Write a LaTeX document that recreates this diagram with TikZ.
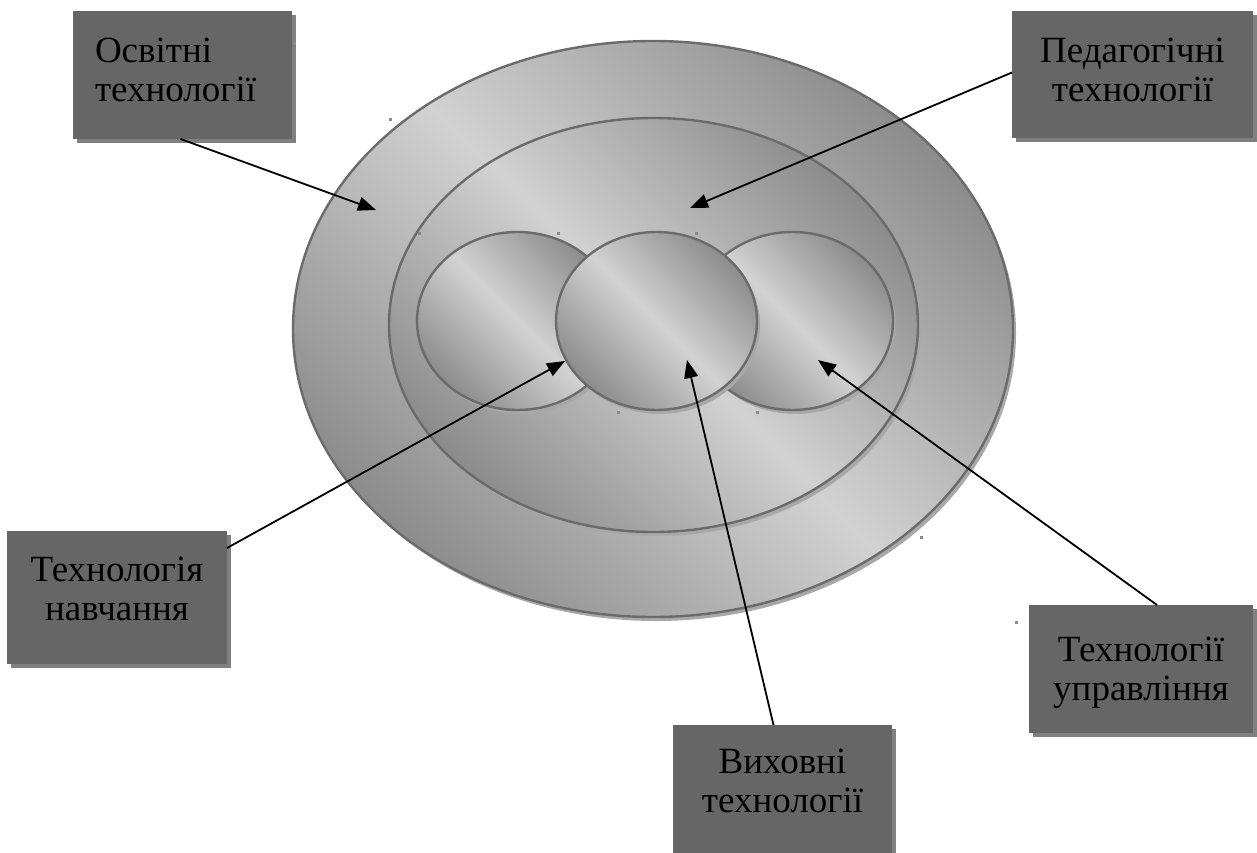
\documentclass[tikz,border=0pt]{standalone}
\usepackage{fontspec}
\setmainfont{Liberation Serif}
\usetikzlibrary{arrows.meta,shadows,shapes.geometric}
\definecolor{boxfill}{HTML}{666666}
\definecolor{boxshadow}{HTML}{808080}
\definecolor{mdark}{HTML}{8C8C8C}
\definecolor{mlight}{HTML}{D2D2D2}
\definecolor{edgecol}{HTML}{6B6B6B}
\definecolor{eshadow}{HTML}{A8A8A8}
\definecolor{handlecol}{HTML}{8A8A8A}
\pgfdeclarehorizontalshading{metal}{100bp}{color(0bp)=(mdark); color(25bp)=(mdark); color(50bp)=(mlight); color(75bp)=(mdark); color(100bp)=(mdark)}
\tikzset{
  disc/.style={ellipse, inner sep=0pt, outer sep=0pt, shading=metal, shading angle=45,
    draw=edgecol, line width=2.4pt,
    drop shadow={shadow xshift=3pt, shadow yshift=-4pt, fill=eshadow, opacity=1}},
  lbl/.style={fill=boxfill, inner sep=0pt, outer sep=0pt,
    drop shadow={shadow xshift=4pt, shadow yshift=-4pt, fill=boxshadow, opacity=1}},
  txt/.style={inner sep=0pt, text=black, font=\fontsize{37}{39}\selectfont, align=center},
  arr/.style={draw=black, line width=1.8pt, -{Triangle[length=18pt,width=14pt]}},
  handle/.style={fill=handlecol}
}
\begin{document}
\begin{tikzpicture}[x=1pt,y=-1pt]
\useasboundingbox (0,0) rectangle (1257,853);
\begin{scope}
\clip (0,0) rectangle (1257,853);
% ellipses
\node[disc, minimum width=720pt, minimum height=576pt] (outer) at (653,329) {};
\node[disc, minimum width=529pt, minimum height=414pt] (inner) at (653.5,325) {};
\node[disc, minimum width=201pt, minimum height=178pt] (cl) at (517.5,321) {};
\node[disc, minimum width=201pt, minimum height=178pt] (cr) at (792.5,321) {};
\node[disc, minimum width=201pt, minimum height=178pt] (cm) at (656.5,321) {};
% arrow targets
\coordinate (t1) at (376,210);
\coordinate (t2) at (690,208);
\coordinate (t3) at (565,361);
\coordinate (t4) at (687,360);
\coordinate (t5) at (818,360);
% label boxes
\node[lbl, minimum width=219pt, minimum height=128pt] (b1) at (182.5,75) {};
\node[lbl, minimum width=241pt, minimum height=127pt] (b2) at (1132.5,74.5) {};
\node[lbl, minimum width=220pt, minimum height=133pt] (b3) at (117,597.5) {};
\node[lbl, minimum width=224pt, minimum height=128pt] (b4) at (1141,669) {};
\node[lbl, minimum width=219pt, minimum height=130pt] (b5) at (782.5,790) {};
% label texts
\node[txt, text width=175pt, align=left] (b1t) at ([yshift=5pt]b1.center) {Освітні\\технології};
\node[txt] (b2t) at ([yshift=5pt]b2.center) {Педагогічні\\технології};
\node[txt] (b3t) at ([yshift=9pt]b3.center) {Технологія\\навчання};
\node[txt] (b4t) at ([yshift=-4pt]b4.center) {Технології\\управління};
\node[txt] (b5t) at ([yshift=9pt]b5.center) {Виховні\\технології};
% connectors
\draw[arr] ([xshift=-2pt]b1.south) -- (t1);
\draw[arr] ([yshift=2pt]b2.west) -- (t2);
\draw[arr] ([yshift=-17pt]b3.north east) -- (t3);
\draw[arr] ([xshift=-9pt]b5.north) -- (t4);
\draw[arr] ([xshift=16pt]b4.north) -- (t5);
% small handle marks
\foreach \p in {(293,42),(389,118),(418,232),(557,232),(695,232),(617,411),(756,411),(920,536),(1015,621)}
  \fill[handle] \p rectangle ++(3,3);
\end{scope}
\end{tikzpicture}
\end{document}
